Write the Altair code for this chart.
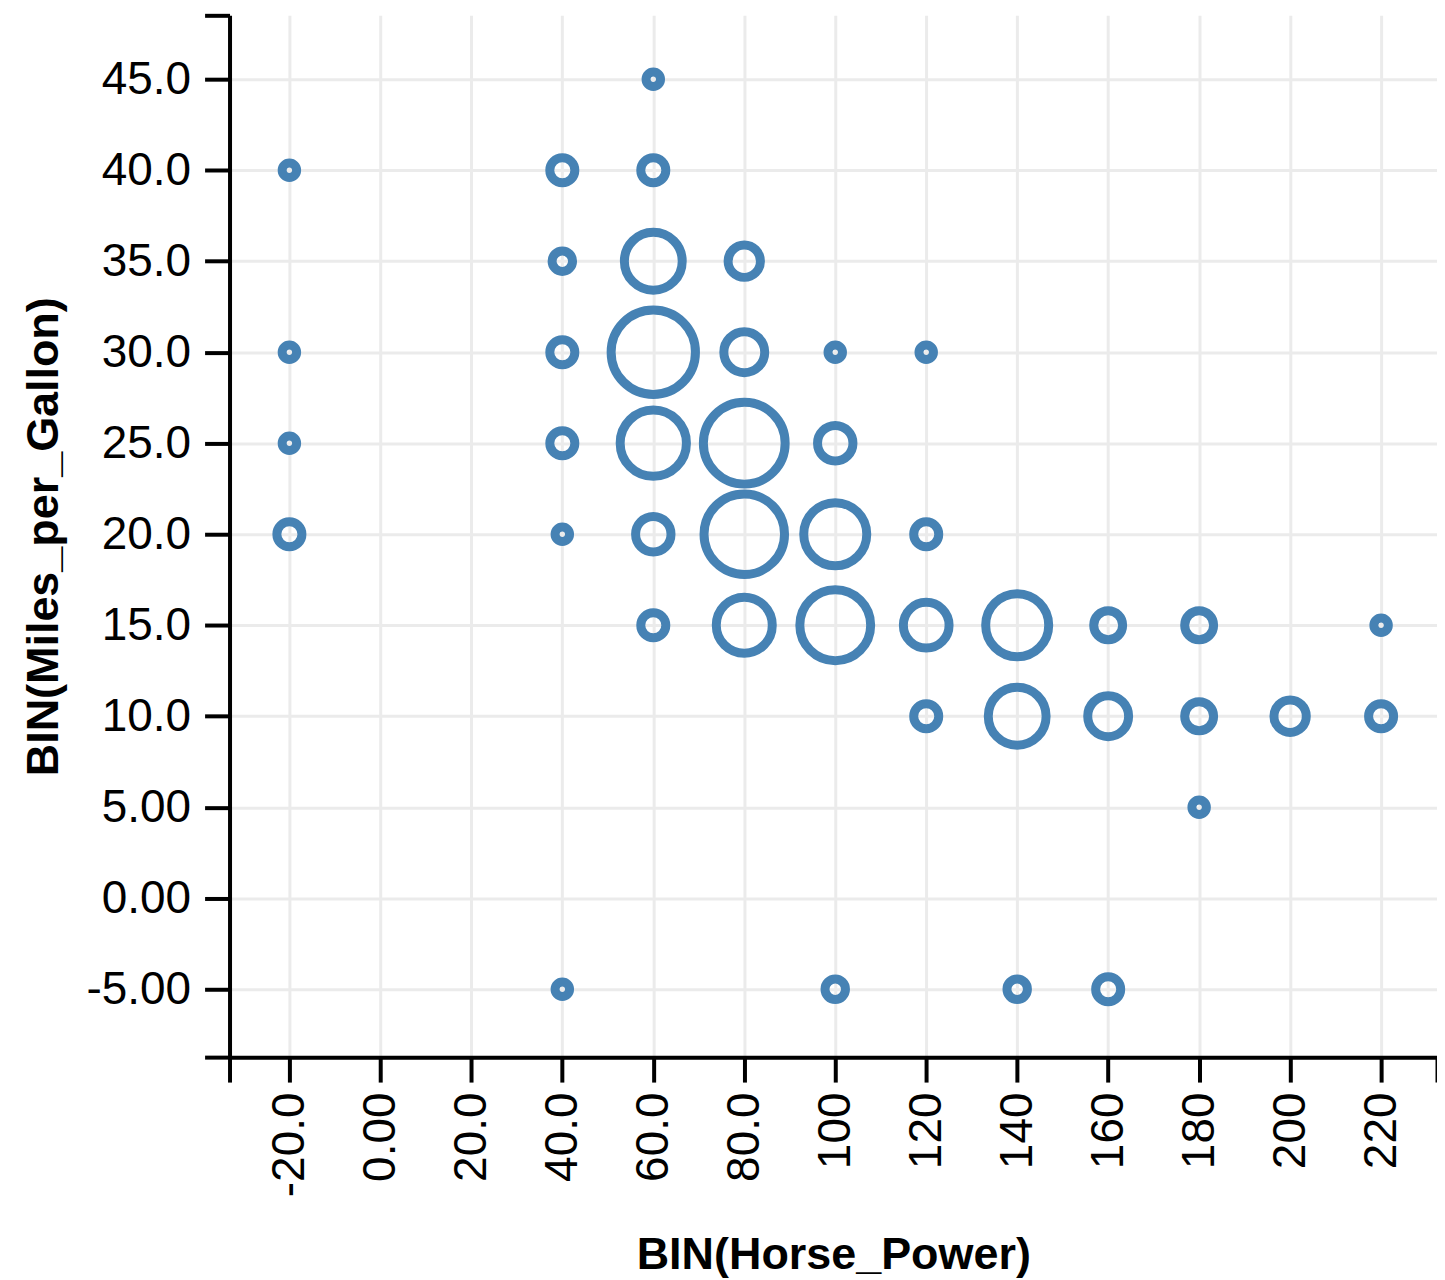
import altair as alt
import pandas as pd

# Binned horsepower (x), binned miles per gallon (y), and count of cars per cell (size)
hp_bins = [-20, -20, -20, -20,
           40, 40, 40, 40, 40, 40,
           60, 60, 60, 60, 60, 60, 60,
           80, 80, 80, 80, 80,
           100, 100, 100, 100, 100,
           120, 120, 120, 120,
           140, 140, 140,
           160, 160, 160,
           180, 180, 180,
           200,
           220, 220]
mpg_bins = [40, 30, 25, 20,
            40, 35, 30, 25, 20, -5,
            45, 40, 35, 30, 25, 20, 15,
            35, 30, 25, 20, 15,
            30, 25, 20, 15, -5,
            30, 20, 15, 10,
            15, 10, -5,
            15, 10, -5,
            15, 10, 5,
            10,
            15, 10]
counts = [1, 1, 1, 3,
          3, 2, 3, 3, 1, 1,
          1, 3, 16, 34, 21, 6, 3,
          5, 8, 32, 31, 15,
          1, 6, 19, 24, 2,
          1, 3, 10, 3,
          19, 16, 2,
          4, 8, 3,
          4, 4, 1,
          5,
          1, 3]

x_ticks = [-20, 0, 20, 40, 60, 80, 100, 120, 140, 160, 180, 200, 220]
y_ticks = [-5, 0, 5, 10, 15, 20, 25, 30, 35, 40, 45]
x_domain = [-33.16, 232.29]
y_domain = [-8.73, 48.51]

df = pd.DataFrame({"hp": hp_bins, "mpg": mpg_bins, "count": counts})

label_expr = ("(datum.value < {lo} || datum.value > {hi}) ? '' : "
              "(datum.value == 0 ? '0.00' : "
              "(datum.value < 0 ? '-' + format(-datum.value, '.3r') : format(datum.value, '.3r')))")

x_axis = alt.Axis(
    values=[x_domain[0]] + x_ticks + [x_domain[1]],
    labelExpr=label_expr.format(lo=-30, hi=230),
    labelAngle=270,
    labelPadding=10,
    titlePadding=36,
    gridOpacity={"condition": {"test": "datum.value < -30 || datum.value > 230", "value": 0}, "value": 1},
)
y_axis = alt.Axis(
    values=[y_domain[0]] + y_ticks + [y_domain[1]],
    labelExpr=label_expr.format(lo=-8, hi=48),
    labelPadding=14,
    titlePadding=20,
    gridOpacity={"condition": {"test": "datum.value < -8 || datum.value > 48", "value": 0}, "value": 1},
)

chart = alt.Chart(df).mark_point(
    shape="circle", filled=False, strokeWidth=9, color="#4682b4", opacity=1
).encode(
    x=alt.X("hp:Q", title="BIN(Horse_Power)",
            scale=alt.Scale(domain=x_domain, nice=False, zero=False), axis=x_axis),
    y=alt.Y("mpg:Q", title="BIN(Miles_per_Gallon)",
            scale=alt.Scale(domain=y_domain, nice=False, zero=False), axis=y_axis),
    size=alt.Size("count:Q", scale=alt.Scale(domain=[0, 34], range=[0, 7140]), legend=None),
).properties(
    width=1210,
    height=1044,
    autosize=alt.AutoSizeParams(type="none"),
    padding={"left": 222, "top": 6, "right": 0, "bottom": 220},
).configure_view(
    stroke=None
).configure_axis(
    domainColor="#000000",
    domainWidth=4,
    tickColor="#000000",
    tickWidth=4,
    tickSize=25,
    gridColor="#ebebeb",
    gridWidth=3,
    labelFont="Liberation Sans",
    labelFontSize=46,
    labelColor="#000000",
    titleFont="Liberation Sans",
    titleFontSize=45,
    titleFontWeight="bold",
    titleColor="#000000",
)

chart.save("out.html", embed_options={"renderer": "svg", "actions": False})
